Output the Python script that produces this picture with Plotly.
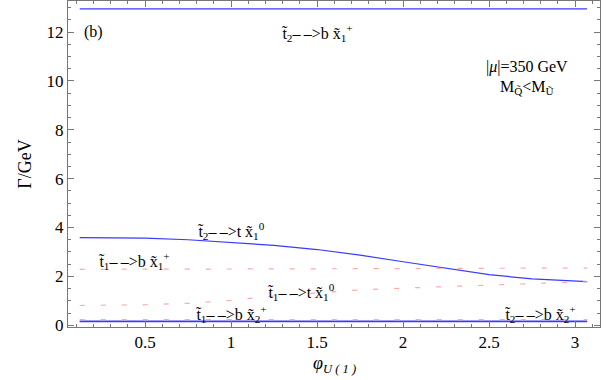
import plotly.graph_objects as go

# phase phi_U(1)
phi = [0.12, 0.3, 0.5, 0.75, 1.0, 1.25, 1.5, 1.75, 2.0, 2.25, 2.5, 2.75, 3.0, 3.07]

# widths in GeV (blue solid: t2 decays, pink dashed: t1 decays)
t2_b_x1p = [12.95] * 14
t2_t_x10 = [3.59, 3.59, 3.57, 3.50, 3.40, 3.27, 3.10, 2.87, 2.60, 2.32, 2.07, 1.90, 1.80, 1.79]
t2_b_x2p = [0.17] * 14
t1_b_x1p = [2.29, 2.29, 2.29, 2.30, 2.30, 2.31, 2.31, 2.32, 2.32, 2.33, 2.33, 2.34, 2.34, 2.34]
t1_t_x10 = [0.81, 0.82, 0.84, 0.90, 1.02, 1.20, 1.33, 1.45, 1.52, 1.59, 1.66, 1.72, 1.77, 1.78]
t1_b_x2p = [0.23] * 14
t1_b_x2p_solid = [0.15] * 14

blue = '#3a3aff'
pink = '#ffaaaa'

fig = go.Figure()
for ys in [t2_b_x1p, t2_t_x10, t2_b_x2p, t1_b_x2p_solid]:
  fig.add_trace(go.Scatter(x=phi, y=ys, mode='lines', line=dict(color=blue, width=1.2)))
for ys in [t1_b_x1p, t1_t_x10, t1_b_x2p]:
  fig.add_trace(go.Scatter(x=phi, y=ys, mode='lines', line=dict(color=pink, width=1.2, dash='5px,16px')))

F = 'Liberation Serif, Times New Roman, serif'
arr = '\u2013\u2009\u2013>'
labels = [
  (0.2, 12.0, '(b)'),
  (1.5, 11.95, 't\u0303<sub>2</sub>' + arr + 'b x\u0303<sub>1</sub><sup>+</sup>'),
  (1.0, 3.85, 't\u0303<sub>2</sub>' + arr + 't x\u0303<sub>1</sub><sup>0</sup>'),
  (0.44, 2.65, 't\u0303<sub>1</sub>' + arr + 'b x\u0303<sub>1</sub><sup>+</sup>'),
  (1.41, 1.35, 't\u0303<sub>1</sub>' + arr + 't x\u0303<sub>1</sub><sup>0</sup>'),
  (1.0, 0.45, 't\u0303<sub>1</sub>' + arr + 'b x\u0303<sub>2</sub><sup>+</sup>'),
  (2.8, 0.45, 't\u0303<sub>2</sub>' + arr + 'b x\u0303<sub>2</sub><sup>+</sup>'),
  (2.72, 10.55, '|<i>\u03bc</i>|=350 GeV'),
  (2.72, 9.75, 'M<sub>Q\u0303</sub><M<sub>U\u0303</sub>'),
]
for x, y, t in labels:
  fig.add_annotation(x=x, y=y, text=t, showarrow=False, font=dict(family=F, size=16, color='black'))

# x axis title as annotation so it sits where the reference has it
fig.add_annotation(x=0.5, y=-0.115, xref='paper', yref='paper', yanchor='middle', showarrow=False,
                   text='<i>\u03c6<sub>U ( 1 )</sub></i>', font=dict(family=F, size=18, color='black'))

ax = dict(showline=True, linecolor='#777', linewidth=1, mirror='allticks', ticks='inside',
          ticklen=6, tickcolor='#777', showgrid=False, zeroline=False,
          tickfont=dict(family=F, size=17, color='black'))
fig.update_xaxes(range=[0.052, 3.145], tick0=0, dtick=0.5,
                 minor=dict(ticks='inside', dtick=0.1, ticklen=3, tickcolor='#777'),
                 **ax)
fig.update_yaxes(range=[-0.07, 13.27], tick0=0, dtick=2,
                 minor=dict(ticks='inside', dtick=0.5, ticklen=3, tickcolor='#777'),
                 title=dict(text='\u0393/GeV', font=dict(family=F, size=18, color='black'), standoff=10),
                 **ax)
fig.update_layout(width=615, height=380, showlegend=False, plot_bgcolor='white', paper_bgcolor='white',
                  font=dict(family=F, color='black'),
                  margin=dict(l=68, r=15, t=1, b=53))
# drop the browser's default body margin so the figure sits at the page corner
fig.write_html("out.html", config={'displayModeBar': False},
               post_script="document.body.style.margin='0';")
